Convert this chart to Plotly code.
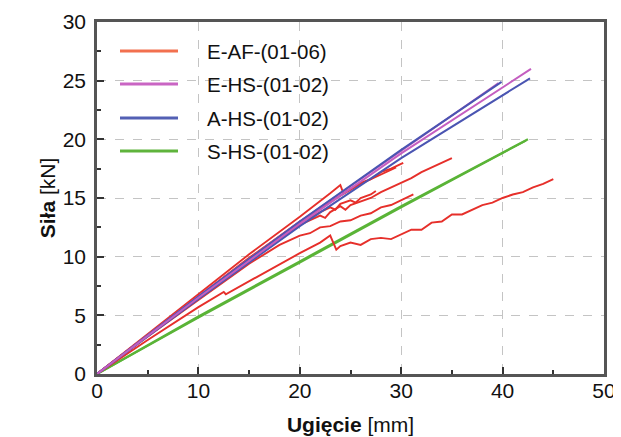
import plotly.graph_objects as go

# ---- data ----
# E-AF-(01-06): six red curves
eaf1_x = [0, 5, 10, 15, 20, 22, 23, 24.0, 24.3, 25, 26, 27, 28, 29, 30.2]
eaf1_y = [0, 3.4, 6.8, 10.2, 13.4, 14.7, 15.4, 16.1, 15.4, 15.8, 16.3, 16.6, 17.2, 17.5, 18.0]
eaf2_x = [0, 5, 10, 15, 20, 21, 22, 22.5, 23, 24, 24.5, 25, 26, 27, 28, 29, 30, 31, 32, 33, 34, 35.0]
eaf2_y = [0, 3.3, 6.5, 9.7, 12.7, 13.1, 13.5, 13.3, 13.8, 14.3, 14.0, 14.4, 14.7, 15.0, 15.5, 15.9, 16.3, 16.7, 17.2, 17.6, 18.0, 18.4]
eaf3_x = [0, 5, 10, 15, 20, 21, 22, 23, 23.5, 24, 25, 25.5, 26, 27, 27.5]
eaf3_y = [0, 3.3, 6.6, 9.8, 12.9, 13.3, 13.8, 14.2, 14.0, 14.5, 14.8, 14.6, 15.0, 15.3, 15.6]
eaf4_x = [0, 5, 10, 12.5, 12.7, 15, 18, 20, 22, 23.0, 23.6, 24, 25, 26, 27, 28, 29, 30, 31, 32, 33, 34, 35, 36, 37, 38, 39, 40, 41, 42, 43, 44, 45.0]
eaf4_y = [0, 2.9, 5.7, 7.0, 6.8, 7.9, 9.4, 10.3, 11.2, 11.8, 10.6, 10.9, 11.2, 11.0, 11.5, 11.6, 11.5, 11.9, 12.3, 12.3, 12.9, 13.0, 13.6, 13.6, 14.0, 14.4, 14.6, 15.0, 15.3, 15.5, 15.9, 16.2, 16.6]
eaf5_x = [0, 5, 10, 15, 18, 20, 21, 22, 23, 24, 25, 26, 27, 28, 29, 30, 31.2]
eaf5_y = [0, 3.2, 6.3, 9.4, 11.0, 11.8, 12.0, 12.5, 12.6, 13.0, 13.1, 13.5, 13.7, 14.2, 14.4, 14.8, 15.3]
eaf6_x = [0, 5, 10, 15, 20, 22, 24, 26, 28, 29.5]
eaf6_y = [0, 3.3, 6.6, 9.9, 13.0, 14.1, 15.2, 16.2, 17.0, 17.6]

# E-HS-(01-02): magenta
ehs1_x = [0, 10, 20, 30, 39.6]
ehs1_y = [0, 6.6, 13.0, 19.0, 24.8]
ehs2_x = [0, 10, 20, 30, 42.8]
ehs2_y = [0, 6.5, 12.8, 18.8, 26.0]

# A-HS-(01-02): blue
ahs1_x = [0, 10, 20, 30, 39.9]
ahs1_y = [0, 6.6, 13.0, 19.1, 24.9]
ahs2_x = [0, 10, 20, 30, 42.7]
ahs2_y = [0, 6.4, 12.6, 18.4, 25.2]

# S-HS-(01-02): green
shs1_x = [0, 10, 20, 30, 42.5]
shs1_y = [0, 4.9, 9.6, 14.3, 20.0]
shs2_x = [0, 10, 20, 30, 42.3]
shs2_y = [0, 4.8, 9.5, 14.2, 19.9]

legend_names = ["E-AF-(01-06)", "E-HS-(01-02)", "A-HS-(01-02)", "S-HS-(01-02)"]
legend_colors = ["#f2704f", "#c965c3", "#5360b4", "#5fb43c"]

x_ticks = [0, 10, 20, 30, 40, 50]
y_ticks = [0, 5, 10, 15, 20, 25, 30]

RED = "#e62f2a"
MAG = "#c45ec0"
BLUE = "#4a55b2"
GREEN = "#5ab437"

FONT = "Liberation Sans, Arial, Helvetica, sans-serif"

fig = go.Figure()

def add(x, y, color, width=1.8):
    fig.add_trace(go.Scatter(x=x, y=y, mode="lines", line=dict(color=color, width=width),
                             showlegend=False, hoverinfo="skip"))

add(shs1_x, shs1_y, GREEN, 2.2)
add(shs2_x, shs2_y, GREEN, 2.0)
for xs, ys in [(eaf4_x, eaf4_y), (eaf5_x, eaf5_y), (eaf3_x, eaf3_y), (eaf2_x, eaf2_y), (eaf1_x, eaf1_y), (eaf6_x, eaf6_y)]:
    add(xs, ys, RED, 1.9)
add(ehs1_x, ehs1_y, MAG, 2.0)
add(ahs1_x, ahs1_y, BLUE, 2.0)
add(ahs2_x, ahs2_y, BLUE, 2.0)
add(ehs2_x, ehs2_y, MAG, 2.0)

# plot area in the figure (the page body adds an 8 px offset)
PL, PR, PT, PB = 89, 17, 14, 63
FIG_W, FIG_H = 613, 429
plot_w = FIG_W - PL - PR
plot_h = FIG_H - PT - PB

# manual legend (white box over grid, sample lines, labels)
shapes = [dict(type="rect", xref="paper", yref="paper", x0=0.006, x1=0.54, y0=0.595, y1=0.975,
               fillcolor="white", line=dict(width=0), layer="between")]
annotations = []
row_px = [51, 84, 118, 151]          # window rows of the legend entries
for name, col, ry in zip(legend_names, legend_colors, row_px):
    yp = (374 - ry) / plot_h
    shapes.append(dict(type="line", xref="paper", yref="paper",
                       x0=(120 - 97) / plot_w, x1=(178 - 97) / plot_w, y0=yp, y1=yp,
                       line=dict(color=col, width=3), layer="above"))
    annotations.append(dict(text=name, xref="paper", yref="paper", x=(205 - 97) / plot_w, y=yp,
                            xanchor="left", yanchor="middle", showarrow=False,
                            font=dict(size=20.5, color="#111", family=FONT)))

fig.update_layout(
    width=FIG_W, height=FIG_H,
    margin=dict(l=PL, r=PR, t=PT, b=PB),
    paper_bgcolor="white", plot_bgcolor="white",
    font=dict(family=FONT, size=20, color="#111"),
    shapes=shapes, annotations=annotations,
    showlegend=False,
)
fig.update_xaxes(
    range=[0, 50], tickvals=x_ticks, ticks="inside", ticklen=7, tickwidth=2, tickcolor="#333",
    minor=dict(dtick=5, ticks="inside", ticklen=4, tickwidth=1.5, tickcolor="#333", showgrid=False),
    showgrid=True, gridcolor="#c4c4c4", griddash="dash", gridwidth=1.3,
    showline=True, mirror=True, linecolor="#555", linewidth=2.5, zeroline=False,
    automargin=False, ticklabelstandoff=-4,
    tickfont=dict(size=21, family=FONT, color="#111"),
    title=dict(text="<b>Ugięcie</b> [mm]", font=dict(size=21, family=FONT, color="#111"), standoff=17),
)
fig.update_yaxes(
    range=[0, 30], tickvals=y_ticks, ticks="inside", ticklen=7, tickwidth=2, tickcolor="#333",
    minor=dict(dtick=2.5, ticks="inside", ticklen=4, tickwidth=1.5, tickcolor="#333", showgrid=False),
    showgrid=True, gridcolor="#c4c4c4", griddash="dash", gridwidth=1.3,
    showline=True, mirror=True, linecolor="#555", linewidth=2.5, zeroline=False,
    automargin=False, ticklabelstandoff=4,
    tickfont=dict(size=21, family=FONT, color="#111"),
    title=dict(text="<b>Siła</b> [kN]", font=dict(size=21, family=FONT, color="#111"), standoff=2),
)

fig.write_html("out.html")
